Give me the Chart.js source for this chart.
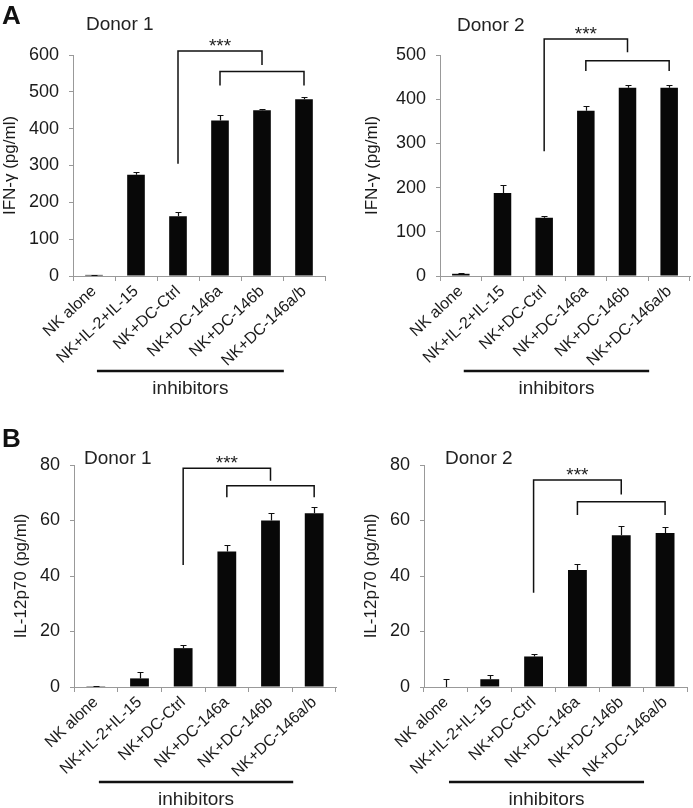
<!DOCTYPE html>
<html>
<head>
<meta charset="utf-8">
<script src="https://cdn.jsdelivr.net/npm/chart.js@4/dist/chart.umd.min.js"></script>
<style>
  body { margin: 0; background: #fff; }
  #page { position: relative; width: 693px; height: 808px; background: #fff; overflow: hidden;
          font-family: "Liberation Sans", Arial, sans-serif; color: #111; }
  .panel { position: absolute; }
  .letter { position: absolute; font-size: 26px; font-weight: bold; line-height: 26px; }
  .donor { position: absolute; font-size: 19px; line-height: 19px; color: #222; }
</style>
</head>
<body>
<div id="page">
  <canvas class="panel" id="ifn1" width="346" height="400" style="left:0;top:0"></canvas>
  <canvas class="panel" id="ifn2" width="347" height="400" style="left:346px;top:0"></canvas>
  <canvas class="panel" id="il1" width="346" height="408" style="left:0;top:400px"></canvas>
  <canvas class="panel" id="il2" width="347" height="408" style="left:346px;top:400px"></canvas>
  <div class="letter" style="left:2px;top:2px">A</div>
  <div class="letter" style="left:2px;top:425px">B</div>
  <div class="donor" style="left:86px;top:14px">Donor 1</div>
  <div class="donor" style="left:457px;top:15px">Donor 2</div>
  <div class="donor" style="left:84px;top:448px">Donor 1</div>
  <div class="donor" style="left:445px;top:448px">Donor 2</div>
</div>
<script>
// categories and values
const categories = ['NK alone', 'NK+IL-2+IL-15', 'NK+DC-Ctrl', 'NK+DC-146a', 'NK+DC-146b', 'NK+DC-146a/b'];

const ifnDonor1 = [3, 275, 162, 422, 450, 480];
const ifnDonor1Err = [1, 6, 13, 14, 3, 7];
const ifnDonor2 = [5, 188, 132, 374, 426, 426];
const ifnDonor2Err = [1, 19, 4, 10, 6, 5];
const il12Donor1 = [0.3, 3.1, 14.0, 48.8, 60.0, 62.6];
const il12Donor1Err = [0.1, 2.3, 1.2, 2.4, 2.6, 2.1];
const il12Donor2 = [0, 2.8, 11.0, 42.2, 54.7, 55.5];
const il12Donor2Err = [2.9, 1.5, 0.8, 2.0, 3.2, 2.3];

// y tick labels
const ifnTicks1 = [0, 100, 200, 300, 400, 500, 600];
const ifnTicks2 = [0, 100, 200, 300, 400, 500];
const il12Ticks = [0, 20, 40, 60, 80];

// significance brackets: [from, to, top, leftEnd, rightEnd]
const ifnBrackets1 = [[2, 4, 611, 305, 573], [3, 5, 555, 517, 517]];
const ifnBrackets2 = [[2, 4, 536, 282, 506], [3, 5, 487, 464, 464]];
const il12Brackets1 = [[2, 4, 78.8, 44, 74.3], [3, 5, 72.5, 68.4, 68.4]];
const il12Brackets2 = [[2, 4, 74.6, 34, 69.4], [3, 5, 66.8, 62, 62]];

const FONT = '"Liberation Sans", Arial, sans-serif';

function annotations(err, brackets) {
    return {
        id: 'annotations',
        afterDatasetsDraw(chart) {
            const { ctx, scales: { x, y }, chartArea } = chart;
            const values = chart.data.datasets[0].data;
            ctx.save();
            ctx.strokeStyle = '#111';
            // error bars (upper half only)
            ctx.lineWidth = 1.2;
            values.forEach((v, i) => {
                const px = Math.round(x.getPixelForValue(i)) + 0.5;
                const y0 = y.getPixelForValue(v);
                const y1 = Math.round(y.getPixelForValue(v + err[i])) + 0.5;
                ctx.beginPath();
                ctx.moveTo(px, y0);
                ctx.lineTo(px, y1);
                ctx.moveTo(px - 3, y1);
                ctx.lineTo(px + 3, y1);
                ctx.stroke();
            });
            // brackets
            ctx.lineWidth = 1.5;
            brackets.forEach(b => {
                const xa = x.getPixelForValue(b[0]), xb = x.getPixelForValue(b[1]);
                const yt = y.getPixelForValue(b[2]);
                ctx.beginPath();
                ctx.moveTo(xa, y.getPixelForValue(b[3]));
                ctx.lineTo(xa, yt);
                ctx.lineTo(xb, yt);
                ctx.lineTo(xb, y.getPixelForValue(b[4]));
                ctx.stroke();
            });
            // stars over the first bracket
            const b0 = brackets[0];
            ctx.fillStyle = '#222';
            ctx.font = '19px ' + FONT;
            ctx.textAlign = 'center';
            ctx.textBaseline = 'alphabetic';
            ctx.fillText('***', x.getPixelForValue((b0[0] + b0[1]) / 2), y.getPixelForValue(b0[2]) + 1);
            // inhibitors bar under the labels
            const lx0 = x.getPixelForValue(0.07), lx1 = x.getPixelForValue(4.52);
            const ly = chartArea.bottom + 95;
            ctx.lineWidth = 2.5;
            ctx.beginPath();
            ctx.moveTo(lx0, ly);
            ctx.lineTo(lx1, ly);
            ctx.stroke();
            ctx.textBaseline = 'middle';
            ctx.fillText('inhibitors', (lx0 + lx1) / 2, chartArea.bottom + 113);
            ctx.restore();
        }
    };
}

function makeChart(id, values, err, ticks, brackets, title, box) {
    const step = ticks[1] - ticks[0];
    return new Chart(document.getElementById(id), {
        type: 'bar',
        data: {
            labels: categories,
            datasets: [{
                data: values,
                backgroundColor: '#080808',
                borderWidth: 0,
                barPercentage: box.bar,
                categoryPercentage: 1
            }]
        },
        options: {
            responsive: false,
            animation: false,
            devicePixelRatio: 1,
            layout: { padding: { left: 0, right: box.right, top: box.top, bottom: 0 } },
            plugins: { legend: { display: false }, tooltip: { enabled: false } },
            scales: {
                x: {
                    grid: { display: true, drawOnChartArea: false, tickLength: 5, color: '#999', offset: true },
                    border: { color: '#999' },
                    ticks: {
                        autoSkip: false, minRotation: 43, maxRotation: 43, padding: 1,
                        color: '#1a1a1a', font: { family: FONT, size: 16 }
                    },
                    afterFit: s => { s.height = box.xh; }
                },
                y: {
                    min: ticks[0],
                    max: ticks[ticks.length - 1],
                    ticks: { stepSize: step, padding: 10, color: '#1a1a1a', font: { family: FONT, size: 18 } },
                    grid: { display: true, drawOnChartArea: false, tickLength: 4, color: '#999' },
                    border: { color: '#999' },
                    title: {
                        display: true, text: title, color: '#1a1a1a',
                        font: { family: FONT, size: 17 }, padding: { top: box.tp, bottom: 0 }
                    },
                    afterFit: s => { s.width = box.left; }
                }
            }
        },
        plugins: [annotations(err, brackets)]
    });
}

makeChart('ifn1', ifnDonor1, ifnDonor1Err, ifnTicks1, ifnBrackets1, 'IFN-γ (pg/ml)',
    { left: 73, right: 21, top: 55, xh: 124, tp: 0, bar: 0.42 });
makeChart('ifn2', ifnDonor2, ifnDonor2Err, ifnTicks2, ifnBrackets2, 'IFN-γ (pg/ml)',
    { left: 94, right: 3, top: 55, xh: 124, tp: 16, bar: 0.42 });
makeChart('il1', il12Donor1, il12Donor1Err, il12Ticks, il12Brackets1, 'IL-12p70 (pg/ml)',
    { left: 74, right: 10, top: 65, xh: 121, tp: 11, bar: 0.43 });
makeChart('il2', il12Donor2, il12Donor2Err, il12Ticks, il12Brackets2, 'IL-12p70 (pg/ml)',
    { left: 78, right: 6, top: 65, xh: 121, tp: 15, bar: 0.43 });
</script>
</body>
</html>
